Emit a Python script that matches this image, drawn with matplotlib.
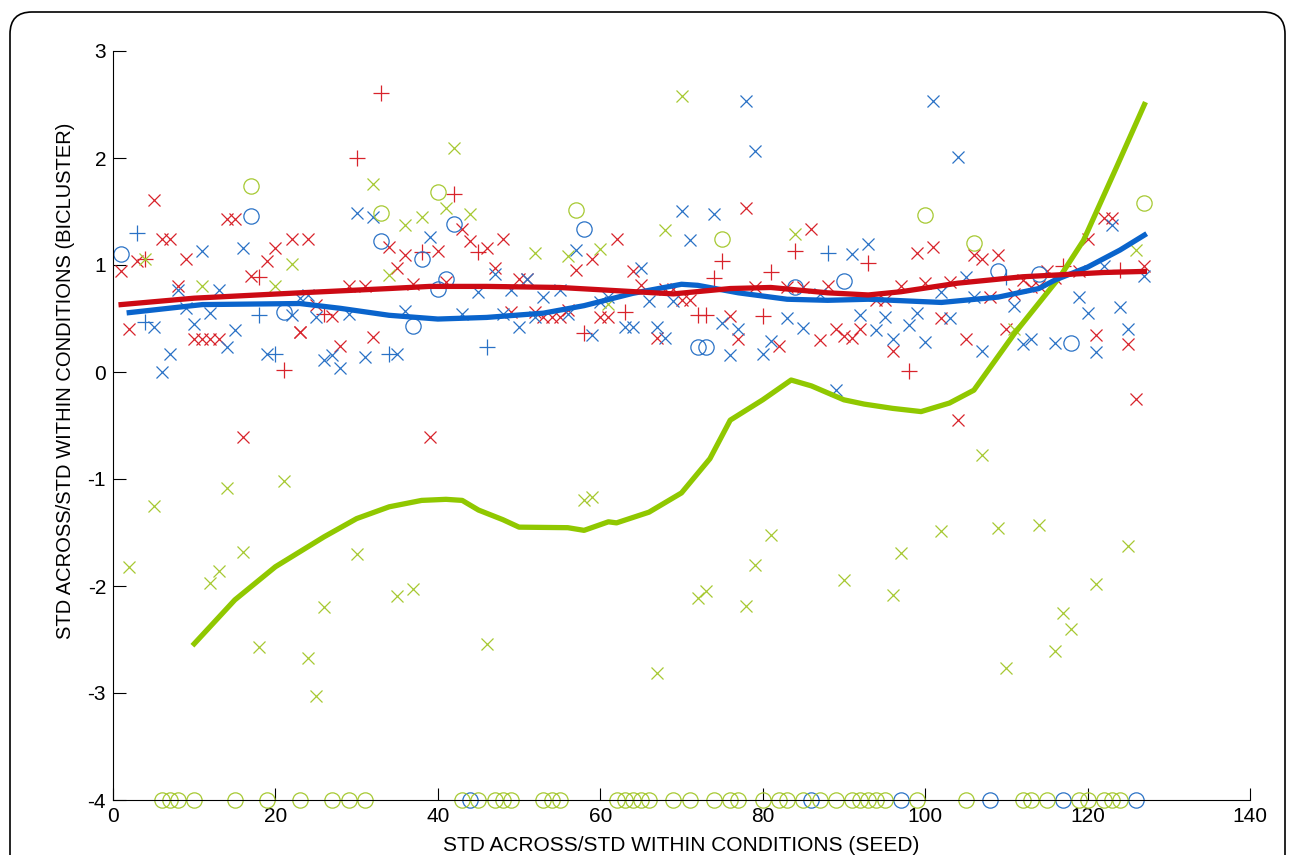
import matplotlib
matplotlib.use("Agg")
import matplotlib.pyplot as plt
from matplotlib.patches import FancyBboxPatch
from matplotlib.transforms import IdentityTransform

plt.rcParams['font.family'] = ['Liberation Sans', 'DejaVu Sans']
plt.rcParams['axes.unicode_minus'] = False

# ---- data ----
red_x_x = [1, 2, 3, 5, 6, 7, 8, 9, 10, 11, 12, 13, 14, 15, 17, 19, 20, 22, 23, 24, 16, 39,
           43, 34, 36, 40, 44, 46, 35, 29, 31, 37, 41, 25, 27, 23, 32, 28,
           48, 62, 59, 47, 57, 64, 50, 51, 65, 68, 69, 49, 52, 53, 54, 55, 56, 60, 61, 67,
           78, 86, 79, 83, 85, 88, 70, 71, 76, 77, 87, 89, 90, 91, 92, 82,
           99, 101, 106, 107, 109, 115, 97, 100, 103, 112, 113, 114, 108, 111, 94, 95, 102, 110, 96, 105, 104,
           122, 123, 120, 127, 119, 116, 121, 125, 126]
red_x_y = [0.94, 0.40, 1.04, 1.61, 1.24, 1.24, 0.80, 1.06, 0.31, 0.31, 0.31, 0.31, 1.43, 1.43, 0.90, 1.04, 1.16, 1.24, 0.37, 1.24, -0.61, -0.61,
           1.34, 1.17, 1.09, 1.13, 1.22, 1.16, 0.97, 0.80, 0.80, 0.82, 0.84, 0.63, 0.52, 0.37, 0.33, 0.24,
           1.24, 1.24, 1.06, 0.97, 0.95, 0.94, 0.87, 0.87, 0.81, 0.78, 0.78, 0.56, 0.56, 0.51, 0.51, 0.51, 0.58, 0.51, 0.51, 0.32,
           1.53, 1.34, 0.79, 0.79, 0.79, 0.80, 0.67, 0.67, 0.52, 0.31, 0.30, 0.40, 0.34, 0.32, 0.40, 0.24,
           1.11, 1.17, 1.09, 1.06, 1.09, 0.94, 0.80, 0.83, 0.84, 0.86, 0.79, 0.80, 0.70, 0.73, 0.67, 0.67, 0.50, 0.40, 0.20, 0.31, -0.45,
           1.44, 1.44, 1.24, 0.99, 0.94, 0.88, 0.35, 0.26, -0.25]

red_p_x = [4, 18, 21, 33, 30, 42, 38, 45, 26, 63, 58, 75, 74, 81, 84, 93, 72, 73, 80, 98, 117, 124]
red_p_y = [1.06, 0.89, 0.02, 2.61, 2.00, 1.66, 1.12, 1.12, 0.54, 0.56, 0.36, 1.04, 0.88, 0.93, 1.13, 1.02, 0.53, 0.53, 0.52, 0.01, 0.99, 0.95]

blue_x_x = [5, 6, 7, 8, 9, 11, 10, 12, 13, 14, 15, 16, 19, 22,
            30, 32, 39, 45, 23, 24, 25, 29, 36, 43, 26, 27, 28, 31, 35,
            57, 70, 47, 65, 51, 49, 55, 53, 61, 60, 66, 69, 48, 52, 56, 63, 64, 50, 59, 67, 68,
            78, 79, 74, 71, 91, 93, 87, 75, 83, 77, 85, 92, 76, 81, 80, 89,
            101, 104, 105, 102, 106, 111, 95, 99, 98, 94, 103, 96, 100, 107, 112, 113, 116,
            123, 122, 127, 119, 124, 120, 125, 121]
blue_x_y = [0.42, 0.00, 0.17, 0.77, 0.60, 1.13, 0.45, 0.55, 0.77, 0.23, 0.39, 1.16, 0.17, 0.53,
            1.49, 1.45, 1.26, 0.75, 0.69, 0.72, 0.51, 0.54, 0.57, 0.54, 0.11, 0.16, 0.04, 0.14, 0.17,
            1.14, 1.50, 0.92, 0.97, 0.87, 0.77, 0.77, 0.70, 0.70, 0.65, 0.66, 0.66, 0.54, 0.51, 0.54, 0.42, 0.42, 0.42, 0.35, 0.42, 0.32,
            2.53, 2.07, 1.48, 1.23, 1.10, 1.20, 0.73, 0.46, 0.50, 0.40, 0.41, 0.53, 0.16, 0.29, 0.17, -0.17,
            2.53, 2.01, 0.89, 0.75, 0.70, 0.62, 0.51, 0.55, 0.44, 0.39, 0.50, 0.31, 0.28, 0.20, 0.26, 0.31, 0.27,
            1.37, 0.99, 0.90, 0.70, 0.61, 0.55, 0.40, 0.19]

blue_p_x = [3, 4, 18, 20, 34, 46, 88, 110]
blue_p_y = [1.30, 0.47, 0.53, 0.17, 0.17, 0.23, 1.11, 0.89]

blue_o_x = [1, 17, 21, 42, 33, 38, 41, 40, 37, 58, 90, 84, 72, 73, 109, 114, 118,
            44, 86, 97, 108, 117, 126]
blue_o_y = [1.10, 1.46, 0.56, 1.38, 1.22, 1.06, 0.87, 0.78, 0.43, 1.34, 0.85, 0.79, 0.23, 0.23, 0.94, 0.92, 0.27,
            -4, -4, -4, -4, -4, -4]

green_x_x = [4, 11, 20, 22, 42, 32, 41, 44, 36, 38, 34, 70, 52, 56, 60, 68, 61, 84, 111, 126,
             2, 5, 14, 21, 16, 12, 13, 18, 24, 25, 26, 30, 35, 37, 46, 58, 59, 81, 79, 72, 73, 78, 67,
             90, 96, 97, 107, 102, 109, 114, 125, 121, 117, 118, 116, 110]
green_x_y = [1.06, 0.80, 0.80, 1.01, 2.09, 1.76, 1.53, 1.48, 1.37, 1.45, 0.91, 2.58, 1.11, 1.08, 1.15, 1.33, 0.64, 1.29, 0.40, 1.14,
             -1.82, -1.25, -1.08, -1.02, -1.68, -1.97, -1.86, -2.57, -2.67, -3.03, -2.20, -1.70, -2.09, -2.03, -2.54, -1.20, -1.17, -1.52, -1.80, -2.11, -2.05, -2.19, -2.81,
             -1.94, -2.08, -1.69, -0.78, -1.49, -1.46, -1.43, -1.63, -1.98, -2.25, -2.40, -2.61, -2.77]

green_o_x = [17, 33, 40, 57, 75, 100, 106, 127,
             6, 7, 8, 10, 15, 19, 23, 27, 29, 31, 43, 45, 47, 48, 49, 53, 54, 55,
             62, 63, 64, 65, 66, 69, 71, 74, 76, 77, 80, 82, 83, 85, 87, 89, 91, 92, 93, 94, 95, 99,
             105, 112, 113, 115, 119, 120, 122, 123, 124]
green_o_y = [1.74, 1.49, 1.68, 1.51, 1.24, 1.47, 1.21, 1.58] + [-4] * 49

red_line_x = [1, 10, 23, 34, 39, 46, 55, 62, 69, 76, 81, 88, 93, 97, 104, 112, 117, 122, 127]
red_line_y = [0.63, 0.69, 0.74, 0.78, 0.80, 0.80, 0.79, 0.76, 0.73, 0.78, 0.79, 0.74, 0.72, 0.75, 0.83, 0.89, 0.91, 0.93, 0.94]

blue_line_x = [2, 11, 23, 28, 34, 40, 46, 53, 58, 64, 70, 72, 77, 83, 88, 93, 102, 109, 114, 116, 120, 124, 127]
blue_line_y = [0.555, 0.63, 0.64, 0.595, 0.53, 0.495, 0.51, 0.55, 0.62, 0.735, 0.82, 0.81, 0.74, 0.68, 0.67, 0.68, 0.65, 0.70, 0.78, 0.86, 0.98, 1.14, 1.28]

green_line_x = [10, 15, 20, 26, 30, 34, 38, 41, 43, 45, 48, 50, 56, 58, 61, 62, 66, 70, 73.5, 76, 80, 83.5, 86, 90, 92.5,
                96, 99.5, 103, 106, 111, 116.6, 119.5, 123.6, 127]
green_line_y = [-2.54, -2.13, -1.82, -1.54, -1.37, -1.26, -1.20, -1.19, -1.20, -1.29, -1.38, -1.45, -1.455, -1.48, -1.40, -1.41,
                -1.31, -1.13, -0.81, -0.45, -0.26, -0.075, -0.13, -0.26, -0.30, -0.34, -0.37, -0.29, -0.17, 0.36, 0.89, 1.23, 1.92, 2.50]

x_ticks = [0, 20, 40, 60, 80, 100, 120, 140]
y_ticks = [-4, -3, -2, -1, 0, 1, 2, 3]

# ---- colours ----
RED_M, RED_L = '#d8232b', '#cc0a14'
BLUE_M, BLUE_L = '#2a72c6', '#0a64cc'
GREEN_M, GREEN_L = '#a6c932', '#90c800'

W, H = 1293, 855
fig = plt.figure(figsize=(W / 100, H / 100), dpi=100)
ax = fig.add_axes([113 / W, 1 - 800 / H, 1137 / W, 749 / H])

ms_x, ms_o, mew = 8.5, 11, 0.9
common = dict(linestyle='none', clip_on=False, markeredgewidth=mew)
ax.plot(red_x_x, red_x_y, marker='x', color=RED_M, markersize=ms_x, **common)
ax.plot(red_p_x, red_p_y, marker='+', color=RED_M, markersize=ms_o, **common)
ax.plot(blue_x_x, blue_x_y, marker='x', color=BLUE_M, markersize=ms_x, **common)
ax.plot(blue_p_x, blue_p_y, marker='+', color=BLUE_M, markersize=ms_o, **common)
ax.plot(blue_o_x, blue_o_y, marker='o', markerfacecolor='none', markeredgecolor=BLUE_M, markersize=ms_o, **common)
ax.plot(green_x_x, green_x_y, marker='x', color=GREEN_M, markersize=ms_x, **common)
ax.plot(green_o_x, green_o_y, marker='o', markerfacecolor='none', markeredgecolor=GREEN_M, markersize=ms_o, **common)

lw = 3.8
ax.plot(green_line_x, green_line_y, color=GREEN_L, linewidth=lw, solid_joinstyle='round')
ax.plot(blue_line_x, blue_line_y, color=BLUE_L, linewidth=lw, solid_joinstyle='round')
ax.plot(red_line_x, red_line_y, color=RED_L, linewidth=lw, solid_joinstyle='round')

ax.set_xlim(0, 140)
ax.set_ylim(-4, 3)
ax.set_xticks(x_ticks)
ax.set_yticks(y_ticks)
ax.spines['top'].set_visible(False)
ax.spines['right'].set_visible(False)
ax.tick_params(direction='in', length=9, width=0.8, labelsize=15, pad=5)
ax.set_xlabel('STD ACROSS/STD WITHIN CONDITIONS (SEED)', fontsize=15, labelpad=7)
ax.set_ylabel('STD ACROSS/STD WITHIN CONDITIONS (BICLUSTER)', fontsize=14.5)
# label sits a bit above the axis centre in the original
ax.yaxis.set_label_coords(-0.0334, 0.559)

# rounded frame around the panel
frame = FancyBboxPatch((10, -40), 1275, H - 12 + 40, boxstyle='round,pad=0,rounding_size=22',
                       transform=IdentityTransform(), facecolor='none', edgecolor='black',
                       linewidth=1.2)
fig.patches.append(frame)

fig.savefig('out.png', dpi=100)
